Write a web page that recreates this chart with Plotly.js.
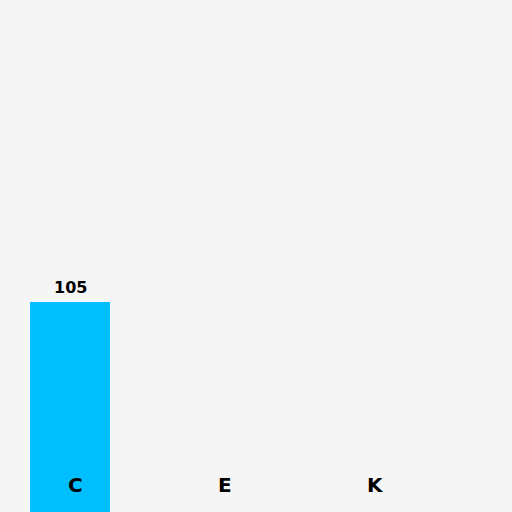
<!DOCTYPE html>
<html><head><meta charset="utf-8">
<script src="https://cdn.plot.ly/plotly-3.0.1.min.js"></script>
<style>html,body{margin:0;padding:0;background:#f5f5f5;}</style>
</head><body>
<div id="chart" style="width:512px;height:512px;"></div>
<script>
const categories = ["C", "E", "K"];
const values = [105, 0, 0];
const valueLabels = ["105", "", ""];

const trace = {
  type: "bar",
  x: [0, 1, 2],
  y: values,
  width: 0.5333,
  marker: {color: "#00bfff"},
  hoverinfo: "none"
};

const valueAnnotations = values.map((v, i) => ({
  x: i, y: v, xref: "x", yref: "y",
  text: "<b>" + valueLabels[i] + "</b>",
  showarrow: false,
  yanchor: "middle", yshift: 15,
  font: {family: "DejaVu Sans", size: 16, color: "#000"}
})).filter(a => a.text !== "<b></b>");

const labelAnnotations = categories.map((c, i) => ({
  x: i, y: 0, xref: "x", yref: "y",
  text: "<b>" + c + "</b>",
  showarrow: false,
  xshift: 5, yshift: 27,
  yanchor: "middle",
  font: {family: "DejaVu Sans", size: 20, color: "#000"}
}));

Plotly.newPlot("chart", [trace], {
  width: 512, height: 512,
  margin: {l: 0, r: 0, t: 0, b: 0},
  paper_bgcolor: "#f5f5f5",
  plot_bgcolor: "#f5f5f5",
  showlegend: false,
  xaxis: {range: [-0.4667, 2.9467], visible: false, fixedrange: true},
  yaxis: {range: [0, 256], visible: false, fixedrange: true},
  annotations: valueAnnotations.concat(labelAnnotations)
}, {staticPlot: true});
</script>
</body></html>
